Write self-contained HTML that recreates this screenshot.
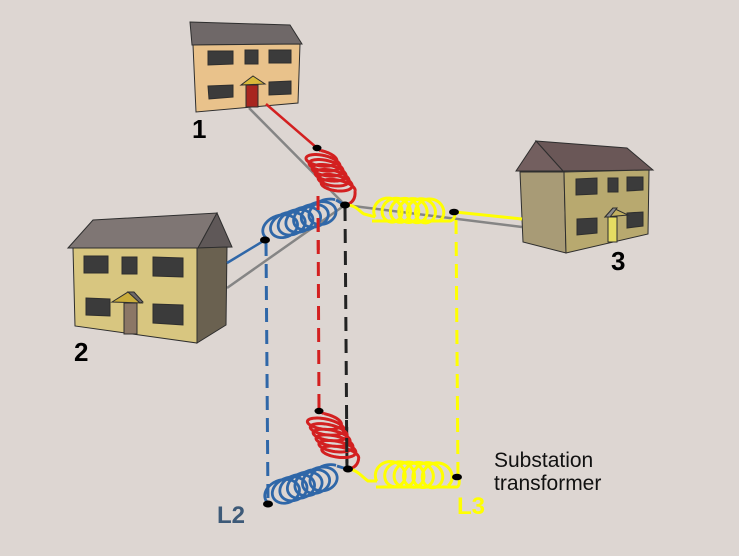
<!DOCTYPE html>
<html><head><meta charset="utf-8"><style>
html,body{margin:0;padding:0;background:#ddd6d2;}
svg{display:block;}
text{font-family:"Liberation Sans",sans-serif;}
</style></head><body>
<svg id="s" width="739" height="556" viewBox="0 0 739 556" xmlns="http://www.w3.org/2000/svg">
<rect width="739" height="556" fill="#ddd6d2"/>

<!-- gray lines -->
<g stroke="#858585" stroke-width="2.5" fill="none">
<line x1="249" y1="108" x2="345" y2="205"/>
<line x1="345" y1="205" x2="522" y2="227"/>
<line x1="345" y1="205" x2="227" y2="288"/>
</g>

<!-- House 1 -->
<g stroke="#2e2e2e" stroke-width="1">
<polygon points="190,22 290,25 302,44 192,45" fill="#6f6868"/>
<polygon points="193,45 300,44 298,103 196,112" fill="#e9c28b"/>
<polygon points="208,51 233,51 233,64 208,65" fill="#3b3b3b"/>
<polygon points="245,50 258,50 258,64 245,64" fill="#3b3b3b"/>
<polygon points="269,50 291,50 291,63 269,63" fill="#3b3b3b"/>
<polygon points="208,86 233,85 233,97 209,99" fill="#3b3b3b"/>
<polygon points="269,82 291,81 291,94 269,95" fill="#3b3b3b"/>
<rect x="246" y="85" width="12" height="22" fill="#a8261f"/>
<polygon points="241,85 253,76 265,84" fill="#d9b93a"/>
</g>

<!-- House 2 -->
<g stroke="#2e2e2e" stroke-width="1">
<polygon points="68,248 93,220 217,213 198,248" fill="#7f7674"/>
<polygon points="217,213 232,247 198,248" fill="#5f5858"/>
<polygon points="73,248 197,248 197,343 75,326" fill="#d8c680"/>
<polygon points="197,248 227,247 226,325 197,343" fill="#6a6150"/>
<polygon points="84,256 108,256 108,273 84,273" fill="#3b3b3b"/>
<polygon points="122,257 137,257 137,274 122,274" fill="#3b3b3b"/>
<polygon points="153,257 183,258 183,277 153,276" fill="#3b3b3b"/>
<polygon points="86,298 110,299 110,316 86,315" fill="#3b3b3b"/>
<polygon points="153,304 183,305 183,325 153,323" fill="#3b3b3b"/>
<rect x="124" y="303" width="13" height="31" fill="#8b7766"/>
<polygon points="112,302 128,292 142,303" fill="#c9ac3b"/>
<polygon points="128,292 134,292 143,302 140,303" fill="#6e6868"/>
</g>

<!-- House 3 -->
<g stroke="#2e2e2e" stroke-width="1">
<polygon points="536,141 627,148 653,170 563,171" fill="#6a5757"/>
<polygon points="516,171 536,141 563,171" fill="#735f5f"/>
<polygon points="520,172 564,172 566,253 523,242" fill="#a89b76"/>
<polygon points="564,172 649,170 648,234 566,253" fill="#b8a96f"/>
<polygon points="576,179 597,178 597,194 576,195" fill="#3b3b3b"/>
<polygon points="608,178 618,178 618,192 608,192" fill="#3b3b3b"/>
<polygon points="627,177 643,177 643,190 627,191" fill="#3b3b3b"/>
<polygon points="577,219 597,218 597,233 577,235" fill="#3b3b3b"/>
<polygon points="627,213 643,212 643,226 627,228" fill="#3b3b3b"/>
<rect x="608" y="217" width="9" height="25" fill="#e5dc62"/>
<polygon points="605,217 613,208 628,215" fill="#c2b060"/>
<polygon points="605,217 613,208 617,208 610,217" fill="#8a8a8a"/>
</g>

<!-- Labels houses -->
<text x="192" y="138" font-size="26" font-weight="bold" fill="#000">1</text>
<text x="74" y="361" font-size="26" font-weight="bold" fill="#000">2</text>
<text x="611" y="270" font-size="26" font-weight="bold" fill="#000">3</text>

<!-- wires from houses -->
<line x1="266" y1="104" x2="317" y2="148" stroke="#d32020" stroke-width="2.5"/>
<line x1="227" y1="263" x2="265" y2="240" stroke="#2f67a8" stroke-width="2.5"/>
<line x1="455" y1="212" x2="522" y2="219" stroke="#ffff00" stroke-width="3"/>

<!-- red dashed -->
<line x1="318" y1="196" x2="319" y2="411" stroke="#d32020" stroke-width="3" stroke-dasharray="14 8" fill="none"/>

<!-- top red coil -->
<g fill="none" stroke="#d32020" stroke-width="3">
<line x1="317" y1="148" x2="321" y2="151"/>
<path d="M355,191 Q356,202 346,205"/>
<g class="fb">
<ellipse cx="320" cy="157" rx="16.5" ry="6.5" transform="rotate(10 320 157)"/>
<ellipse cx="323" cy="162" rx="16.5" ry="6.5" transform="rotate(10 323 162)"/>
<ellipse cx="326.5" cy="167.5" rx="16.5" ry="6.5" transform="rotate(10 326.5 167.5)"/>
<ellipse cx="329.5" cy="173" rx="16.5" ry="6.5" transform="rotate(10 329.5 173)"/>
<ellipse cx="333" cy="178" rx="16.5" ry="6.5" transform="rotate(10 333 178)"/>
<ellipse cx="336" cy="183.5" rx="16.5" ry="6.5" transform="rotate(10 336 183.5)"/>
<ellipse cx="339" cy="188" rx="16.5" ry="6.5" transform="rotate(10 339 188)"/>
</g>
<g id="c1"></g>
</g>

<!-- top blue coil -->
<g fill="none" stroke="#2f67a8" stroke-width="2.8">
<path d="M265,240 L267,240"/>
<path d="M336,200 Q341,203 345,205"/>
<g class="fb">
<ellipse cx="275" cy="229" rx="14.5" ry="10.5" transform="rotate(-18 275 229)"/>
<ellipse cx="284" cy="226" rx="14.5" ry="10.5" transform="rotate(-18 284 226)"/>
<ellipse cx="293" cy="223" rx="14.5" ry="10.5" transform="rotate(-18 293 223)"/>
<ellipse cx="302" cy="220" rx="14.5" ry="10.5" transform="rotate(-18 302 220)"/>
<ellipse cx="311" cy="217" rx="14.5" ry="10.5" transform="rotate(-18 311 217)"/>
<ellipse cx="320" cy="214" rx="14.5" ry="10.5" transform="rotate(-18 320 214)"/>
<ellipse cx="328" cy="211" rx="14.5" ry="10.5" transform="rotate(-18 328 211)"/>
</g>
<g id="c2"></g>
</g>

<!-- red dashed over blue coil -->
<line x1="318" y1="196" x2="318.3" y2="250" stroke="#d32020" stroke-width="3" stroke-dasharray="14 8" fill="none"/>

<!-- other dashed verticals -->
<g fill="none" stroke-width="3" stroke-dasharray="14 8">
<line x1="266" y1="242" x2="268" y2="503" stroke="#2f67a8"/>
<line x1="345" y1="207" x2="347" y2="469" stroke="#222"/>
<line x1="456" y1="220" x2="458" y2="477" stroke="#ffff00"/>
</g>

<!-- top yellow coil -->
<g fill="none" stroke="#ffff00" stroke-width="3">
<path d="M346,205 C356,205 359,211 364,214 L375.2,216.9"/>
<path d="M372,221 L450,221 Q455,220 455,213"/>
<g class="fb">
<ellipse cx="385" cy="210" rx="12" ry="12" transform="rotate(10 385 210)"/>
<ellipse cx="395" cy="210" rx="12" ry="12" transform="rotate(10 395 210)"/>
<ellipse cx="405" cy="210" rx="12" ry="12" transform="rotate(10 405 210)"/>
<ellipse cx="415" cy="210.5" rx="12" ry="12" transform="rotate(10 415 210.5)"/>
<ellipse cx="424" cy="211" rx="12" ry="12" transform="rotate(10 424 211)"/>
<ellipse cx="433" cy="211" rx="12" ry="12" transform="rotate(10 433 211)"/>
</g>
<g id="c3"></g>
</g>

<!-- bottom red coil -->
<g fill="none" stroke="#d32020" stroke-width="3">
<line x1="318" y1="411" x2="324" y2="413.6"/>
<path d="M358.7,458 Q358,467 349,469"/>
<g class="fb">
<ellipse cx="323" cy="420" rx="18" ry="6.5" transform="rotate(10 323 420)"/>
<ellipse cx="326" cy="426" rx="18" ry="6.5" transform="rotate(10 326 426)"/>
<ellipse cx="329" cy="432" rx="18" ry="6.5" transform="rotate(10 329 432)"/>
<ellipse cx="332" cy="438" rx="18" ry="6.5" transform="rotate(10 332 438)"/>
<ellipse cx="335" cy="444" rx="18" ry="6.5" transform="rotate(10 335 444)"/>
<ellipse cx="338" cy="450" rx="18" ry="6.5" transform="rotate(10 338 450)"/>
<ellipse cx="341" cy="455" rx="18" ry="6.5" transform="rotate(10 341 455)"/>
</g>
<g id="c4"></g>
</g>
<line x1="346.5" y1="420" x2="347" y2="469" stroke="#222" stroke-width="3" stroke-dasharray="14 8" stroke-dashoffset="4"/>

<!-- bottom blue coil -->
<g fill="none" stroke="#2f67a8" stroke-width="2.8">
<path d="M268,503 L269,504"/>
<path d="M337,466 Q343,468 348,469"/>
<g class="fb">
<ellipse cx="277" cy="494" rx="14.5" ry="11" transform="rotate(-18 277 494)"/>
<ellipse cx="286" cy="491" rx="14.5" ry="11" transform="rotate(-18 286 491)"/>
<ellipse cx="295" cy="488" rx="14.5" ry="11" transform="rotate(-18 295 488)"/>
<ellipse cx="304" cy="485" rx="14.5" ry="11" transform="rotate(-18 304 485)"/>
<ellipse cx="313" cy="482" rx="14.5" ry="11" transform="rotate(-18 313 482)"/>
<ellipse cx="321" cy="479" rx="14.5" ry="11" transform="rotate(-18 321 479)"/>
<ellipse cx="329" cy="477" rx="14.5" ry="11" transform="rotate(-18 329 477)"/>
</g>
<g id="c5"></g>
</g>

<!-- bottom yellow coil -->
<g fill="none" stroke="#ffff00" stroke-width="3">
<path d="M348,469 C358,470 362,477 368,481 L377,481"/>
<path d="M376,487 L457,487 Q460,486 459,478"/>
<g class="fb">
<ellipse cx="387" cy="474" rx="12.5" ry="12.5" transform="rotate(10 387 474)"/>
<ellipse cx="398" cy="474" rx="12.5" ry="12.5" transform="rotate(10 398 474)"/>
<ellipse cx="409" cy="474.5" rx="12.5" ry="12.5" transform="rotate(10 409 474.5)"/>
<ellipse cx="420" cy="475" rx="12.5" ry="12.5" transform="rotate(10 420 475)"/>
<ellipse cx="431" cy="475" rx="12.5" ry="12.5" transform="rotate(10 431 475)"/>
<ellipse cx="441" cy="475.5" rx="12.5" ry="12.5" transform="rotate(10 441 475.5)"/>
</g>
<g id="c6"></g>
</g>

<!-- dots -->
<g fill="#000">
<ellipse cx="317" cy="148" rx="4.5" ry="3.2"/>
<ellipse cx="345" cy="205" rx="5" ry="3.5"/>
<ellipse cx="265" cy="240" rx="5" ry="3.5"/>
<ellipse cx="454" cy="212" rx="5" ry="3.3"/>
<ellipse cx="319" cy="411" rx="4.5" ry="3.2"/>
<ellipse cx="348" cy="469" rx="5" ry="3.5"/>
<ellipse cx="268" cy="504" rx="5" ry="3.5"/>
<ellipse cx="457" cy="477" rx="5" ry="3.3"/>
</g>

<!-- labels -->
<text x="217" y="523" font-size="24" font-weight="bold" fill="#3d5a78">L2</text>
<text x="457" y="514" font-size="24" font-weight="bold" fill="#ffff00">L3</text>
<text x="494" y="467" font-size="21" fill="#111">Substation</text>
<text x="494" y="490" font-size="21" fill="#111">transformer</text>
</svg>
<script>
(function(){
var NS='http://www.w3.org/2000/svg',P=Math.PI;
function hx(id,ax,ay,bx,by,t0,t1,ux,uy,vx,vy){
 var g=document.getElementById(id);if(!g)return;
 var n=Math.ceil((t1-t0)/0.1),s='';
 for(var i=0;i<=n;i++){var f=i/n,t=t0+(t1-t0)*f;
  var x=ax+(bx-ax)*f+ux*Math.cos(t)+vx*Math.sin(t);
  var y=ay+(by-ay)*f+uy*Math.cos(t)+vy*Math.sin(t);
  s+=(i?'L':'M')+x.toFixed(2)+','+y.toFixed(2);}
 var p=document.createElementNS(NS,'path');p.setAttribute('d',s);p.setAttribute('stroke-linejoin','round');g.appendChild(p);
}
try{
hx('c1',320,157,339,188,-P/2,12*P,16.2,2.9,-1.1,6.4);
hx('c2',277,228,327,211,0.75*P,0.75*P+13*P,15,-5,3.5,11);
hx('c3',385,210,433,211,0.75*P,0.25*P+12*P,11.8,2.1,-2.1,11.8);
hx('c4',323,420,341,455,-P/2,12*P,17.7,3.1,-1.1,6.4);
hx('c5',279,493,328,477,0.75*P,0.75*P+13*P,15,-5,3.6,11.5);
hx('c6',387,474,441,475.5,0.75*P,0.25*P+12*P,12.3,2.2,-2.2,12.3);
var fb=document.querySelectorAll('.fb');for(var k=0;k<fb.length;k++)fb[k].parentNode.removeChild(fb[k]);
}catch(e){}
})();
</script>
</body></html>
